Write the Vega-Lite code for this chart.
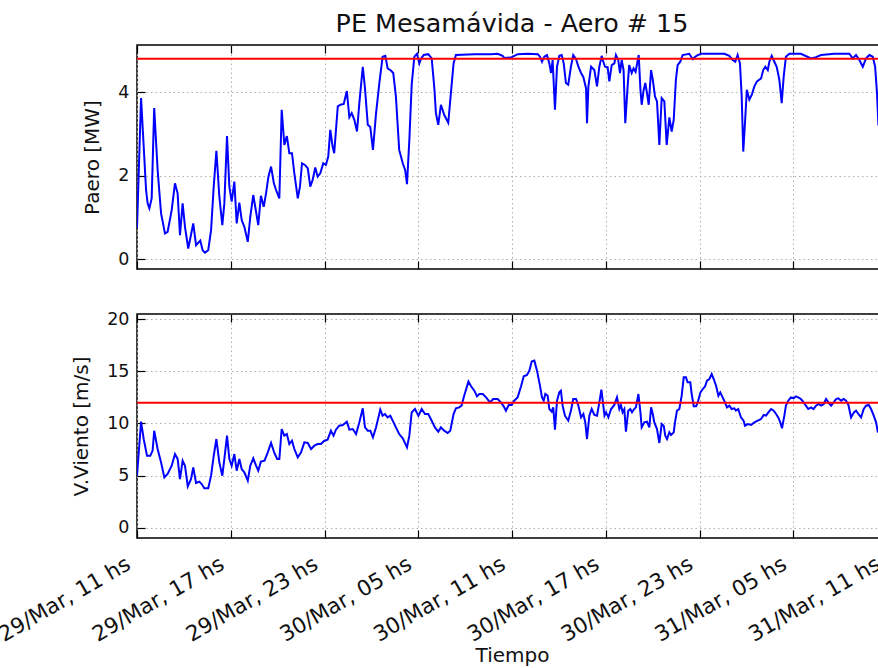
{
  "$schema": "https://vega.github.io/schema/vega-lite/v6.json",
  "background": "white",
  "padding": {"left": -6, "top": 11, "right": 0, "bottom": 0},
  "spacing": 38,
  "config": {
    "font": "DejaVu Sans",
    "view": {"stroke": "black", "strokeWidth": 1.5},
    "axis": {
      "labelFont": "DejaVu Sans", "labelFontSize": 17.5, "labelColor": "#111",
      "titleFont": "DejaVu Sans", "titleFontSize": 20, "titleFontWeight": "normal", "titleColor": "#111",
      "domain": false,
      "tickColor": "black", "tickSize": -8, "tickWidth": 1.2,
      "gridColor": "#b0b0b0", "gridDash": [1.5, 3], "gridWidth": 1
    },
    "title": {"font": "DejaVu Sans", "fontSize": 25.4, "fontWeight": "normal", "color": "#111"}
  },
  "datasets": {
    "potencia": [
      {"hora":0.00,"paero":0.75},{"hora":0.26,"paero":3.86},{"hora":0.58,"paero":1.66},{"hora":0.68,"paero":1.34},{"hora":0.79,"paero":1.22},{"hora":0.94,"paero":1.46},{"hora":1.10,"paero":3.62},{"hora":1.32,"paero":2.14},{"hora":1.54,"paero":1.10},{"hora":1.79,"paero":0.62},
      {"hora":1.96,"paero":0.66},{"hora":2.22,"paero":1.18},{"hora":2.43,"paero":1.82},{"hora":2.60,"paero":1.58},{"hora":2.75,"paero":0.58},{"hora":2.92,"paero":1.34},{"hora":3.07,"paero":0.78},{"hora":3.28,"paero":0.26},{"hora":3.60,"paero":0.86},{"hora":3.78,"paero":0.34},
      {"hora":4.05,"paero":0.45},{"hora":4.20,"paero":0.22},{"hora":4.35,"paero":0.16},{"hora":4.56,"paero":0.22},{"hora":4.74,"paero":0.70},{"hora":4.91,"paero":1.74},{"hora":5.08,"paero":2.60},{"hora":5.27,"paero":1.50},{"hora":5.46,"paero":0.82},{"hora":5.59,"paero":1.34},
      {"hora":5.76,"paero":2.95},{"hora":5.91,"paero":1.74},{"hora":6.06,"paero":1.38},{"hora":6.23,"paero":1.86},{"hora":6.38,"paero":0.86},{"hora":6.55,"paero":1.36},{"hora":6.70,"paero":0.94},{"hora":6.87,"paero":0.78},{"hora":7.09,"paero":0.42},{"hora":7.25,"paero":1.02},
      {"hora":7.44,"paero":1.54},{"hora":7.62,"paero":1.14},{"hora":7.76,"paero":0.82},{"hora":7.93,"paero":1.52},{"hora":8.11,"paero":1.26},{"hora":8.26,"paero":1.58},{"hora":8.41,"paero":1.98},{"hora":8.58,"paero":2.22},{"hora":8.76,"paero":1.82},{"hora":8.90,"paero":1.66},
      {"hora":9.11,"paero":1.46},{"hora":9.26,"paero":3.58},{"hora":9.43,"paero":2.74},{"hora":9.59,"paero":2.95},{"hora":9.75,"paero":2.54},{"hora":9.92,"paero":2.54},{"hora":10.07,"paero":2.06},{"hora":10.29,"paero":1.46},{"hora":10.43,"paero":1.74},{"hora":10.56,"paero":2.30},
      {"hora":10.75,"paero":2.26},{"hora":10.93,"paero":2.18},{"hora":11.09,"paero":1.74},{"hora":11.24,"paero":1.90},{"hora":11.41,"paero":2.20},{"hora":11.56,"paero":1.98},{"hora":11.73,"paero":2.06},{"hora":11.92,"paero":2.30},{"hora":12.09,"paero":2.26},{"hora":12.24,"paero":2.46},
      {"hora":12.37,"paero":3.10},{"hora":12.52,"paero":2.70},{"hora":12.62,"paero":2.54},{"hora":12.85,"paero":3.66},{"hora":13.02,"paero":3.70},{"hora":13.23,"paero":3.72},{"hora":13.43,"paero":4.03},{"hora":13.59,"paero":3.40},{"hora":13.74,"paero":3.50},{"hora":13.91,"paero":3.34},
      {"hora":14.08,"paero":3.06},{"hora":14.23,"paero":3.74},{"hora":14.45,"paero":4.61},{"hora":14.59,"paero":4.10},{"hora":14.77,"paero":3.22},{"hora":14.93,"paero":3.17},{"hora":15.10,"paero":2.62},{"hora":15.30,"paero":3.50},{"hora":15.51,"paero":4.22},{"hora":15.72,"paero":4.85},
      {"hora":15.89,"paero":4.87},{"hora":16.04,"paero":4.57},{"hora":16.25,"paero":4.52},{"hora":16.40,"paero":4.46},{"hora":16.57,"paero":3.90},{"hora":16.78,"paero":2.62},{"hora":17.01,"paero":2.30},{"hora":17.16,"paero":2.14},{"hora":17.28,"paero":1.80},{"hora":17.43,"paero":2.86},
      {"hora":17.58,"paero":4.18},{"hora":17.75,"paero":4.85},{"hora":17.92,"paero":4.92},{"hora":18.07,"paero":4.69},{"hora":18.18,"paero":4.81},{"hora":18.35,"paero":4.89},{"hora":18.64,"paero":4.91},{"hora":18.86,"paero":4.81},{"hora":19.03,"paero":4.10},{"hora":19.13,"paero":3.50},
      {"hora":19.28,"paero":3.22},{"hora":19.45,"paero":3.70},{"hora":19.66,"paero":3.46},{"hora":19.92,"paero":3.27},{"hora":20.09,"paero":3.98},{"hora":20.26,"paero":4.69},{"hora":20.41,"paero":4.89},{"hora":21.59,"paero":4.91},{"hora":22.66,"paero":4.91},{"hora":23.08,"paero":4.92},
      {"hora":23.40,"paero":4.87},{"hora":23.50,"paero":4.82},{"hora":23.93,"paero":4.83},{"hora":24.37,"paero":4.91},{"hora":25.01,"paero":4.92},{"hora":25.65,"paero":4.91},{"hora":25.79,"paero":4.85},{"hora":25.92,"paero":4.73},{"hora":26.07,"paero":4.85},{"hora":26.24,"paero":4.89},
      {"hora":26.39,"paero":4.69},{"hora":26.50,"paero":4.46},{"hora":26.60,"paero":4.77},{"hora":26.75,"paero":3.58},{"hora":26.88,"paero":4.61},{"hora":27.03,"paero":4.87},{"hora":27.18,"paero":4.89},{"hora":27.31,"paero":4.69},{"hora":27.45,"paero":4.22},{"hora":27.60,"paero":4.18},
      {"hora":27.77,"paero":4.61},{"hora":27.92,"paero":4.89},{"hora":28.10,"paero":4.79},{"hora":28.25,"paero":4.61},{"hora":28.42,"paero":4.46},{"hora":28.57,"paero":4.36},{"hora":28.74,"paero":4.09},{"hora":28.80,"paero":3.26},{"hora":28.89,"paero":4.14},{"hora":29.06,"paero":4.61},
      {"hora":29.27,"paero":4.53},{"hora":29.44,"paero":4.14},{"hora":29.59,"paero":4.61},{"hora":29.74,"paero":4.87},{"hora":29.81,"paero":4.77},{"hora":29.95,"paero":4.61},{"hora":30.12,"paero":4.60},{"hora":30.23,"paero":4.26},{"hora":30.38,"paero":4.65},{"hora":30.55,"paero":4.69},
      {"hora":30.65,"paero":4.89},{"hora":30.80,"paero":4.77},{"hora":30.91,"paero":4.46},{"hora":31.02,"paero":4.77},{"hora":31.14,"paero":4.53},{"hora":31.25,"paero":3.26},{"hora":31.40,"paero":4.14},{"hora":31.50,"paero":4.65},{"hora":31.66,"paero":4.46},{"hora":31.78,"paero":4.57},
      {"hora":31.91,"paero":4.49},{"hora":32.05,"paero":4.77},{"hora":32.11,"paero":4.89},{"hora":32.22,"paero":4.06},{"hora":32.30,"paero":3.70},{"hora":32.43,"paero":4.06},{"hora":32.53,"paero":4.22},{"hora":32.64,"paero":3.98},{"hora":32.75,"paero":3.70},{"hora":32.90,"paero":4.53},
      {"hora":33.01,"paero":4.30},{"hora":33.15,"paero":3.90},{"hora":33.28,"paero":3.78},{"hora":33.43,"paero":2.74},{"hora":33.58,"paero":3.86},{"hora":33.75,"paero":3.78},{"hora":33.90,"paero":2.74},{"hora":34.07,"paero":3.40},{"hora":34.22,"paero":3.06},{"hora":34.35,"paero":3.34},
      {"hora":34.49,"paero":4.30},{"hora":34.60,"paero":4.65},{"hora":34.77,"paero":4.73},{"hora":34.92,"paero":4.89},{"hora":35.34,"paero":4.92},{"hora":35.57,"paero":4.79},{"hora":35.72,"paero":4.85},{"hora":35.89,"paero":4.89},{"hora":36.10,"paero":4.92},{"hora":37.59,"paero":4.92},
      {"hora":37.91,"paero":4.87},{"hora":38.12,"paero":4.77},{"hora":38.29,"paero":4.73},{"hora":38.44,"paero":4.89},{"hora":38.59,"paero":4.69},{"hora":38.70,"paero":3.90},{"hora":38.80,"paero":2.58},{"hora":38.91,"paero":3.26},{"hora":39.03,"paero":4.06},{"hora":39.19,"paero":3.82},
      {"hora":39.35,"paero":3.94},{"hora":39.51,"paero":4.14},{"hora":39.68,"paero":4.26},{"hora":39.94,"paero":4.33},{"hora":40.08,"paero":4.53},{"hora":40.21,"paero":4.61},{"hora":40.37,"paero":4.53},{"hora":40.47,"paero":4.73},{"hora":40.62,"paero":4.87},{"hora":40.79,"paero":4.73},
      {"hora":40.94,"paero":4.61},{"hora":41.11,"paero":4.30},{"hora":41.26,"paero":3.74},{"hora":41.39,"paero":4.38},{"hora":41.53,"paero":4.85},{"hora":41.75,"paero":4.92},{"hora":42.49,"paero":4.92},{"hora":43.14,"paero":4.81},{"hora":43.46,"paero":4.84},{"hora":43.78,"paero":4.89},
      {"hora":44.63,"paero":4.92},{"hora":45.59,"paero":4.92},{"hora":45.80,"paero":4.81},{"hora":46.02,"paero":4.89},{"hora":46.23,"paero":4.77},{"hora":46.45,"paero":4.61},{"hora":46.66,"paero":4.81},{"hora":46.87,"paero":4.89},{"hora":47.09,"paero":4.85},{"hora":47.24,"paero":4.61},
      {"hora":47.36,"paero":3.98},{"hora":47.45,"paero":3.22},{"hora":48.00,"paero":3.00}
    ],
    "viento": [
      {"hora":0.00,"vel":4.99},{"hora":0.26,"vel":10.18},{"hora":0.43,"vel":8.50},{"hora":0.64,"vel":6.90},{"hora":0.85,"vel":6.90},{"hora":1.00,"vel":7.40},{"hora":1.10,"vel":9.30},{"hora":1.32,"vel":7.55},{"hora":1.54,"vel":6.27},{"hora":1.75,"vel":4.83},
      {"hora":1.96,"vel":5.15},{"hora":2.22,"vel":5.95},{"hora":2.43,"vel":7.07},{"hora":2.60,"vel":6.60},{"hora":2.75,"vel":4.67},{"hora":2.92,"vel":6.43},{"hora":3.07,"vel":5.95},{"hora":3.25,"vel":3.97},{"hora":3.46,"vel":4.67},{"hora":3.60,"vel":5.79},
      {"hora":3.78,"vel":4.29},{"hora":3.99,"vel":4.42},{"hora":4.14,"vel":4.19},{"hora":4.31,"vel":3.78},{"hora":4.56,"vel":3.78},{"hora":4.74,"vel":4.99},{"hora":4.91,"vel":6.90},{"hora":5.08,"vel":8.51},{"hora":5.27,"vel":6.27},{"hora":5.46,"vel":4.99},
      {"hora":5.59,"vel":6.59},{"hora":5.76,"vel":8.83},{"hora":5.91,"vel":6.59},{"hora":6.06,"vel":5.95},{"hora":6.23,"vel":7.07},{"hora":6.38,"vel":5.47},{"hora":6.55,"vel":6.59},{"hora":6.70,"vel":5.63},{"hora":6.87,"vel":5.31},{"hora":7.09,"vel":4.51},
      {"hora":7.25,"vel":5.95},{"hora":7.44,"vel":6.66},{"hora":7.62,"vel":5.95},{"hora":7.76,"vel":5.47},{"hora":7.93,"vel":6.34},{"hora":8.16,"vel":6.43},{"hora":8.37,"vel":7.23},{"hora":8.58,"vel":8.13},{"hora":8.79,"vel":7.17},{"hora":8.97,"vel":6.59},
      {"hora":9.11,"vel":6.59},{"hora":9.26,"vel":9.47},{"hora":9.43,"vel":8.83},{"hora":9.59,"vel":8.99},{"hora":9.75,"vel":8.03},{"hora":9.92,"vel":8.35},{"hora":10.07,"vel":7.55},{"hora":10.29,"vel":6.75},{"hora":10.50,"vel":7.23},{"hora":10.71,"vel":8.19},
      {"hora":10.93,"vel":8.13},{"hora":11.14,"vel":7.55},{"hora":11.35,"vel":7.87},{"hora":11.56,"vel":8.03},{"hora":11.77,"vel":8.03},{"hora":11.99,"vel":8.35},{"hora":12.20,"vel":8.45},{"hora":12.41,"vel":9.31},{"hora":12.58,"vel":8.83},{"hora":12.73,"vel":9.41},
      {"hora":12.94,"vel":9.79},{"hora":13.17,"vel":9.86},{"hora":13.43,"vel":10.18},{"hora":13.59,"vel":9.41},{"hora":13.81,"vel":9.47},{"hora":14.02,"vel":8.99},{"hora":14.23,"vel":10.11},{"hora":14.45,"vel":11.46},{"hora":14.59,"vel":9.63},{"hora":14.77,"vel":9.31},
      {"hora":14.93,"vel":9.31},{"hora":15.10,"vel":8.67},{"hora":15.30,"vel":9.63},{"hora":15.57,"vel":11.33},{"hora":15.72,"vel":10.75},{"hora":15.87,"vel":10.91},{"hora":16.04,"vel":10.59},{"hora":16.21,"vel":10.75},{"hora":16.42,"vel":10.11},{"hora":16.57,"vel":9.63},
      {"hora":16.78,"vel":8.99},{"hora":17.01,"vel":8.58},{"hora":17.28,"vel":7.71},{"hora":17.43,"vel":8.83},{"hora":17.58,"vel":11.07},{"hora":17.79,"vel":11.39},{"hora":18.01,"vel":10.75},{"hora":18.22,"vel":11.39},{"hora":18.43,"vel":10.91},{"hora":18.64,"vel":10.91},
      {"hora":18.86,"vel":10.27},{"hora":19.07,"vel":9.63},{"hora":19.28,"vel":9.22},{"hora":19.45,"vel":9.63},{"hora":19.66,"vel":9.31},{"hora":19.88,"vel":9.09},{"hora":20.05,"vel":9.31},{"hora":20.26,"vel":10.91},{"hora":20.41,"vel":11.46},{"hora":20.62,"vel":11.55},
      {"hora":20.77,"vel":11.71},{"hora":20.94,"vel":12.67},{"hora":21.21,"vel":14.02},{"hora":21.38,"vel":13.57},{"hora":21.59,"vel":13.15},{"hora":21.76,"vel":12.61},{"hora":21.91,"vel":12.83},{"hora":22.13,"vel":12.83},{"hora":22.34,"vel":12.51},{"hora":22.59,"vel":12.03},
      {"hora":22.80,"vel":12.35},{"hora":23.08,"vel":12.35},{"hora":23.29,"vel":12.03},{"hora":23.47,"vel":11.65},{"hora":23.61,"vel":11.23},{"hora":23.79,"vel":11.78},{"hora":23.98,"vel":11.78},{"hora":24.14,"vel":12.19},{"hora":24.36,"vel":12.51},{"hora":24.58,"vel":13.57},
      {"hora":24.75,"vel":14.53},{"hora":24.96,"vel":14.66},{"hora":25.11,"vel":15.07},{"hora":25.26,"vel":15.94},{"hora":25.43,"vel":16.03},{"hora":25.60,"vel":15.07},{"hora":25.79,"vel":13.63},{"hora":25.92,"vel":12.51},{"hora":26.03,"vel":12.19},{"hora":26.13,"vel":12.83},
      {"hora":26.28,"vel":12.67},{"hora":26.39,"vel":11.39},{"hora":26.54,"vel":11.14},{"hora":26.64,"vel":11.55},{"hora":26.75,"vel":9.41},{"hora":26.88,"vel":12.19},{"hora":27.03,"vel":12.99},{"hora":27.13,"vel":13.15},{"hora":27.24,"vel":11.71},{"hora":27.39,"vel":10.75},
      {"hora":27.60,"vel":10.27},{"hora":27.77,"vel":11.23},{"hora":27.92,"vel":12.35},{"hora":28.10,"vel":12.35},{"hora":28.25,"vel":11.71},{"hora":28.42,"vel":10.59},{"hora":28.57,"vel":10.91},{"hora":28.69,"vel":10.11},{"hora":28.80,"vel":8.51},{"hora":28.95,"vel":10.75},
      {"hora":29.10,"vel":11.39},{"hora":29.27,"vel":10.82},{"hora":29.44,"vel":10.75},{"hora":29.59,"vel":12.03},{"hora":29.72,"vel":13.25},{"hora":29.82,"vel":12.03},{"hora":29.92,"vel":10.75},{"hora":30.02,"vel":11.07},{"hora":30.17,"vel":10.59},{"hora":30.34,"vel":11.39},
      {"hora":30.55,"vel":11.78},{"hora":30.72,"vel":12.51},{"hora":30.87,"vel":11.39},{"hora":30.97,"vel":11.78},{"hora":31.08,"vel":11.07},{"hora":31.19,"vel":11.39},{"hora":31.29,"vel":9.22},{"hora":31.44,"vel":11.23},{"hora":31.57,"vel":11.39},{"hora":31.68,"vel":11.07},
      {"hora":31.82,"vel":11.39},{"hora":31.93,"vel":11.55},{"hora":32.09,"vel":12.83},{"hora":32.22,"vel":11.07},{"hora":32.30,"vel":9.63},{"hora":32.47,"vel":10.11},{"hora":32.64,"vel":10.18},{"hora":32.79,"vel":9.63},{"hora":32.90,"vel":11.55},{"hora":33.01,"vel":10.91},
      {"hora":33.11,"vel":10.11},{"hora":33.28,"vel":9.47},{"hora":33.43,"vel":8.13},{"hora":33.58,"vel":9.95},{"hora":33.71,"vel":9.79},{"hora":33.81,"vel":8.83},{"hora":33.92,"vel":8.51},{"hora":34.07,"vel":9.15},{"hora":34.18,"vel":8.90},{"hora":34.35,"vel":9.15},
      {"hora":34.43,"vel":10.11},{"hora":34.56,"vel":11.23},{"hora":34.71,"vel":11.39},{"hora":34.86,"vel":12.67},{"hora":34.99,"vel":14.43},{"hora":35.13,"vel":14.43},{"hora":35.24,"vel":13.95},{"hora":35.41,"vel":13.95},{"hora":35.50,"vel":12.83},{"hora":35.63,"vel":11.65},
      {"hora":35.78,"vel":11.65},{"hora":35.89,"vel":12.03},{"hora":36.06,"vel":12.99},{"hora":36.21,"vel":13.31},{"hora":36.36,"vel":13.57},{"hora":36.48,"vel":14.11},{"hora":36.63,"vel":14.27},{"hora":36.78,"vel":14.75},{"hora":36.91,"vel":14.27},{"hora":37.06,"vel":13.63},
      {"hora":37.21,"vel":12.67},{"hora":37.33,"vel":12.99},{"hora":37.48,"vel":12.51},{"hora":37.63,"vel":12.03},{"hora":37.76,"vel":11.55},{"hora":37.91,"vel":11.71},{"hora":38.06,"vel":11.39},{"hora":38.23,"vel":11.46},{"hora":38.33,"vel":11.23},{"hora":38.48,"vel":11.39},
      {"hora":38.65,"vel":10.59},{"hora":38.82,"vel":10.27},{"hora":38.91,"vel":9.79},{"hora":39.09,"vel":9.95},{"hora":39.30,"vel":9.86},{"hora":39.51,"vel":10.11},{"hora":39.73,"vel":10.27},{"hora":39.94,"vel":10.43},{"hora":40.11,"vel":10.82},{"hora":40.26,"vel":10.75},
      {"hora":40.41,"vel":11.07},{"hora":40.58,"vel":11.39},{"hora":40.75,"vel":11.23},{"hora":40.90,"vel":10.91},{"hora":41.04,"vel":10.59},{"hora":41.17,"vel":10.11},{"hora":41.28,"vel":9.54},{"hora":41.43,"vel":10.75},{"hora":41.53,"vel":11.71},{"hora":41.68,"vel":12.19},
      {"hora":41.85,"vel":12.51},{"hora":42.03,"vel":12.42},{"hora":42.17,"vel":12.61},{"hora":42.32,"vel":12.51},{"hora":42.49,"vel":12.35},{"hora":42.67,"vel":12.03},{"hora":42.81,"vel":11.71},{"hora":42.96,"vel":11.39},{"hora":43.14,"vel":11.55},{"hora":43.29,"vel":11.39},
      {"hora":43.46,"vel":11.71},{"hora":43.61,"vel":11.87},{"hora":43.78,"vel":11.71},{"hora":43.95,"vel":11.87},{"hora":44.10,"vel":12.35},{"hora":44.25,"vel":12.03},{"hora":44.42,"vel":11.71},{"hora":44.59,"vel":12.03},{"hora":44.74,"vel":12.35},{"hora":44.89,"vel":12.42},
      {"hora":45.06,"vel":12.19},{"hora":45.23,"vel":12.35},{"hora":45.38,"vel":12.19},{"hora":45.53,"vel":11.78},{"hora":45.70,"vel":10.59},{"hora":45.88,"vel":11.07},{"hora":46.02,"vel":11.23},{"hora":46.17,"vel":10.91},{"hora":46.34,"vel":10.59},{"hora":46.51,"vel":11.39},
      {"hora":46.66,"vel":11.71},{"hora":46.83,"vel":11.78},{"hora":46.98,"vel":11.39},{"hora":47.15,"vel":10.75},{"hora":47.30,"vel":10.11},{"hora":47.41,"vel":9.22},{"hora":47.47,"vel":9.15},{"hora":48.00,"vel":9.00}
    ]
  },
  "vconcat": [
    {
      "title": {"text": "PE Mesamávida - Aero # 15", "frame": "group", "anchor": "middle", "offset": 7},
      "width": 750,
      "height": 224,
      "layer": [
        {
          "data": {"name": "potencia"},
          "mark": {"type": "line", "color": "#0000ff", "strokeWidth": 2, "clip": true},
          "encoding": {
            "x": {"field": "hora", "type": "quantitative",
                  "scale": {"domain": [0, 48], "nice": false, "zero": false},
                  "axis": {"orient": "bottom", "values": [0, 6, 12, 18, 24, 30, 36, 42, 48], "labels": false, "title": null, "grid": true}},
            "y": {"field": "paero", "type": "quantitative",
                  "scale": {"domain": [-0.23, 5.13], "nice": false, "zero": false},
                  "axis": {"values": [0, 2, 4], "title": "Paero [MW]", "labelPadding": 16, "titlePadding": 15, "grid": true}}
          }
        },
        {
          "data": {"values": [{"desde": 0, "hasta": 48, "nominal": 4.8}]},
          "mark": {"type": "rule", "color": "#ff0000", "strokeWidth": 2},
          "encoding": {
            "x": {"field": "desde", "type": "quantitative",
                  "scale": {"domain": [0, 48], "nice": false, "zero": false},
                  "axis": {"orient": "top", "values": [0, 6, 12, 18, 24, 30, 36, 42, 48], "labels": false, "title": null, "grid": false}},
            "x2": {"field": "hasta"},
            "y": {"field": "nominal", "type": "quantitative",
                  "scale": {"domain": [-0.23, 5.13], "nice": false, "zero": false},
                  "axis": {"values": [0, 2, 4], "title": "Paero [MW]", "labelPadding": 16, "titlePadding": 15, "grid": true}}
          }
        }
      ],
      "resolve": {"axis": {"x": "independent"}}
    },
    {
      "width": 750,
      "height": 224,
      "layer": [
        {
          "data": {"name": "viento"},
          "mark": {"type": "line", "color": "#0000ff", "strokeWidth": 2, "clip": true},
          "encoding": {
            "x": {"field": "hora", "type": "quantitative",
                  "scale": {"domain": [0, 48], "nice": false, "zero": false},
                  "axis": {"orient": "bottom", "values": [0, 6, 12, 18, 24, 30, 36, 42, 48], "grid": true, "title": "Tiempo",
                           "labelExpr": "utcFormat(utc(2015, 2, 29, 11) + datum.value * 3600000, '%d/%b, %H hs')",
                           "labelFontSize": 21.5,
                           "labelAngle": -30, "labelAlign": "right", "labelBaseline": "top", "labelPadding": 23, "labelOffset": -14,
                           "labelOverlap": false, "labelFlush": false, "titlePadding": 0}},
            "y": {"field": "vel", "type": "quantitative",
                  "scale": {"domain": [-0.99, 20.51], "nice": false, "zero": false},
                  "axis": {"values": [0, 5, 10, 15, 20], "title": "V.Viento [m/s]", "labelPadding": 16, "titlePadding": 15, "grid": true}}
          }
        },
        {
          "data": {"values": [{"desde": 0, "hasta": 48, "nominal": 12}]},
          "mark": {"type": "rule", "color": "#ff0000", "strokeWidth": 2},
          "encoding": {
            "x": {"field": "desde", "type": "quantitative",
                  "scale": {"domain": [0, 48], "nice": false, "zero": false},
                  "axis": {"orient": "top", "values": [0, 6, 12, 18, 24, 30, 36, 42, 48], "labels": false, "title": null, "grid": false}},
            "x2": {"field": "hasta"},
            "y": {"field": "nominal", "type": "quantitative",
                  "scale": {"domain": [-0.99, 20.51], "nice": false, "zero": false},
                  "axis": {"values": [0, 5, 10, 15, 20], "title": "V.Viento [m/s]", "labelPadding": 16, "titlePadding": 15, "grid": true}}
          }
        }
      ],
      "resolve": {"axis": {"x": "independent"}}
    }
  ]
}
